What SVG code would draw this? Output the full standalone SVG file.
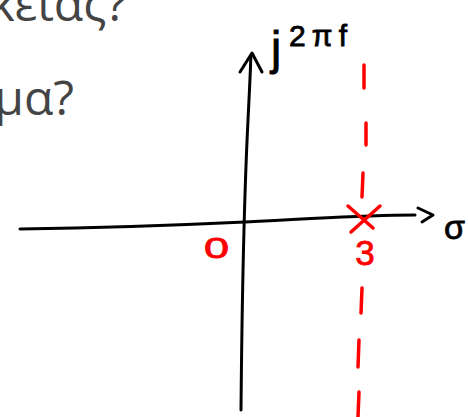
<svg xmlns="http://www.w3.org/2000/svg" width="468" height="417" viewBox="0 0 468 417">
  <style>
    .q { font-family: "Open Sans", "Noto Sans", sans-serif; font-size: 48px; fill: #444444; }
    .ink { fill: none; stroke: #000000; stroke-width: 3; stroke-linecap: round; stroke-linejoin: round; }
    .red { fill: none; stroke: #ff0000; stroke-width: 3.5; stroke-linecap: round; stroke-linejoin: round; }
    .hb { font-family: "Liberation Sans", "DejaVu Sans", sans-serif; fill: #000000; stroke: #000000; stroke-width: 0.8; }
    .hr { font-family: "Liberation Sans", "DejaVu Sans", sans-serif; fill: #ff0000; stroke: #ff0000; stroke-width: 0.8; }
  </style>
  <rect width="468" height="417" fill="#ffffff"/>

  <g id="question-text">
    <text class="q" x="127" y="21" text-anchor="end">κειας?</text>
    <text class="q" x="74" y="115" text-anchor="end">μα?</text>
  </g>

  <g id="axes">
    <path id="real-axis" class="ink" d="M20,229 C90,228 160,226 245,222 S360,215 415,215"/>
    <path id="real-arrow" class="ink" d="M418,208 L433,215 L422,222"/>
    <path id="imag-axis" class="ink" d="M241,410 C242,300 244,200 248,120 S250,70 251,56"/>
    <path id="imag-arrow" class="ink" d="M240,72 L252,53 L262,72"/>
  </g>

  <g id="axis-labels">
    <text class="hb" x="271" y="64" font-size="46">j<tspan x="289" y="46" font-size="30" textLength="58" lengthAdjust="spacing">2πf</tspan></text>
    <text class="hb" x="444" y="239" font-size="34">σ</text>
  </g>

  <g id="boundary">
    <path class="red" d="M364,65 L364,88"/>
    <path class="red" d="M366,123 L366,145"/>
    <path class="red" d="M363,173 L362,197"/>
    <path class="red" d="M362,288 L361,313"/>
    <path class="red" d="M359,340 L358,367"/>
    <path class="red" d="M359,392 L358,417"/>
  </g>

  <g id="pole">
    <path class="red" d="M348,206 L373,228 M380,206 L351,232"/>
    <text class="hr" x="365" y="265" font-size="35" text-anchor="middle">3</text>
  </g>

  <g id="zero">
    <text class="hr" x="0" y="0" font-size="30" text-anchor="middle" transform="translate(216.5,258) scale(1.5,1)">0</text>
  </g>
</svg>
